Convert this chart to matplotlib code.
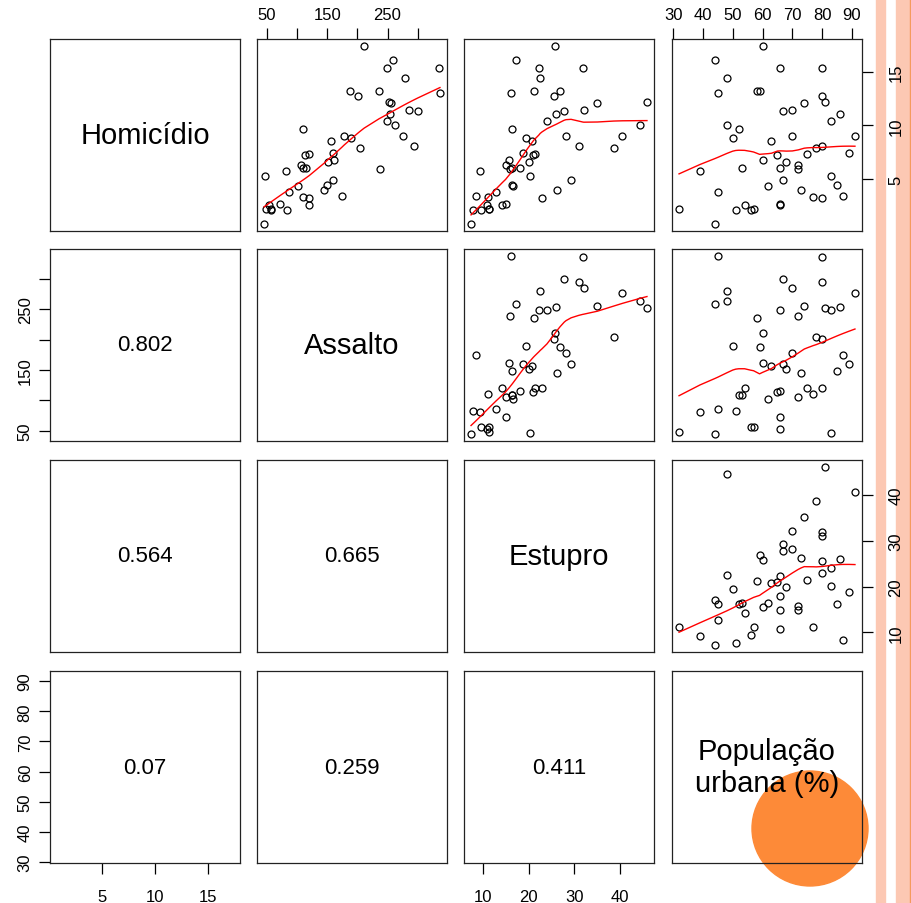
import numpy as np
import matplotlib
matplotlib.use('Agg')
import matplotlib.pyplot as plt
from matplotlib.patches import Circle, Rectangle

plt.rcParams['font.family'] = ['Liberation Sans', 'DejaVu Sans']

# dados USArrests (50 estados)
homicidio = [13.2, 10.0, 8.1, 8.8, 9.0, 7.9, 3.3, 5.9, 15.4, 17.4,
             5.3, 2.6, 10.4, 7.2, 2.2, 6.0, 9.7, 15.4, 2.1, 11.3,
             4.4, 12.1, 2.7, 16.1, 9.0, 6.0, 4.3, 12.2, 2.1, 7.4,
             11.4, 11.1, 13.0, 0.8, 7.3, 6.6, 4.9, 6.3, 3.4, 14.4,
             3.8, 13.2, 12.7, 3.2, 2.2, 8.5, 4.0, 5.7, 2.6, 6.8]
assalto = [236, 263, 294, 190, 276, 204, 110, 238, 335, 211,
           46, 120, 249, 113, 56, 115, 109, 249, 83, 300,
           149, 255, 72, 259, 178, 109, 102, 252, 57, 159,
           285, 254, 337, 45, 120, 151, 159, 106, 174, 279,
           86, 188, 201, 120, 48, 156, 145, 81, 53, 161]
pop_urbana = [58, 48, 80, 50, 91, 78, 77, 72, 80, 60,
              83, 54, 83, 65, 57, 66, 52, 66, 51, 67,
              85, 74, 66, 44, 70, 53, 62, 81, 56, 89,
              70, 86, 45, 44, 75, 68, 67, 72, 87, 48,
              45, 59, 80, 80, 32, 63, 73, 39, 66, 60]
estupro = [21.2, 44.5, 31.0, 19.5, 40.6, 38.7, 11.1, 15.8, 31.9, 25.8,
           20.2, 14.2, 24.0, 21.0, 11.3, 18.0, 16.3, 22.2, 7.8, 27.8,
           16.3, 35.1, 14.9, 17.1, 28.2, 16.4, 16.5, 46.0, 9.5, 18.8,
           32.1, 26.1, 16.1, 7.3, 21.4, 20.0, 29.3, 14.9, 8.3, 22.5,
           12.8, 26.9, 25.5, 22.9, 11.2, 20.7, 26.2, 9.3, 10.8, 15.6]

nomes = ['Homicídio', 'Assalto', 'Estupro', 'População\nurbana (%)']
dados = [homicidio, assalto, estupro, pop_urbana]
marcas = [[5, 10, 15],
          [50, 100, 150, 200, 250, 300],
          [10, 20, 30, 40],
          [30, 40, 50, 60, 70, 80, 90]]
rotulos = [['5', '10', '15'],
           ['50', '', '150', '', '250', ''],
           ['10', '20', '30', '40'],
           ['30', '40', '50', '60', '70', '80', '90']]


# lowess igual ao do R (f=2/3, iter=3)
def lowess(x, y, f=2/3, iters=3):
    x = np.asarray(x, float)
    y = np.asarray(y, float)
    ordem = np.argsort(x, kind='stable')
    x = x[ordem]
    y = y[ordem]
    n = len(x)
    ns = max(min(int(f * n + 1e-7), n), 2)
    faixa = x[-1] - x[0]
    rw = np.ones(n)
    ys = np.zeros(n)
    for it in range(iters + 1):
        for i in range(n):
            d = np.abs(x - x[i])
            h = np.sort(d)[ns - 1]
            w = np.where(d <= 0.999 * h,
                         np.where(d <= 0.001 * h, 1.0, (1 - (d / h) ** 3) ** 3), 0.0) * rw
            if w.sum() <= 0:
                ys[i] = y[i]
                continue
            w = w / w.sum()
            if h > 0:
                a = np.sum(w * x)
                b = x[i] - a
                c = np.sum(w * (x - a) ** 2)
                if np.sqrt(c) > 0.001 * faixa:
                    b = b / c
                    w = w * (b * (x - a) + 1)
            ys[i] = np.sum(w * y)
        if it == iters:
            break
        res = y - ys
        cmad = 6 * np.median(np.abs(res))
        if cmad < 1e-7 * np.mean(np.abs(y)):
            break
        r = np.abs(res)
        rw = np.where(r <= 0.001 * cmad, 1.0,
                      np.where(r > 0.999 * cmad, 0.0, (1 - (r / cmad) ** 2) ** 2))
    return x, ys


def limites(v):
    v = np.asarray(v, float)
    ext = 0.04 * (v.max() - v.min())
    return v.min() - ext, v.max() + ext


W, H = 912, 904
fig = plt.figure(figsize=(9.12, 9.04), dpi=100)
fig.patch.set_facecolor('white')

# faixas rosadas e circulo laranja (atras dos paineis)
fig.patches.append(Rectangle((876 / W, 0), 9 / W, 1, transform=fig.transFigure,
                             color='#fcc8b3', zorder=-2))
fig.patches.append(Rectangle((896 / W, 0), 16 / W, 1, transform=fig.transFigure,
                             color='#fcc8b3', zorder=-2))
fig.patches.append(Rectangle((910.5 / W, 0), 1.5 / W, 1, transform=fig.transFigure,
                             color='#f59a5e', zorder=-2))
fig.patches.append(Circle((810 / W, 1 - 829.5 / H), 58 / W, transform=fig.transFigure,
                          color='#fd8a38', zorder=-1))

esq = [50, 257, 464, 672]
topo = [40, 250, 461, 672]
larg, alt = 190, 192
n = len(dados)

for i in range(n):
    for j in range(n):
        ax = fig.add_axes([esq[j] / W, 1 - (topo[i] + alt) / H, larg / W, alt / H])
        ax.set_facecolor('none')
        ax.set_xlim(limites(dados[j]))
        ax.set_ylim(limites(dados[i]))
        for s in ax.spines.values():
            s.set_linewidth(0.9)
            s.set_color('#222222')
        ax.set_xticks([])
        ax.set_yticks([])

        if i < j:
            # dispersao + lowess
            ax.plot(dados[j], dados[i], 'o', mfc='none', mec='black', ms=5, mew=0.9)
            lx, ly = lowess(dados[j], dados[i])
            ax.plot(lx, ly, color='red', lw=1)
        elif i > j:
            r = np.corrcoef(dados[i], dados[j])[0, 1]
            ax.text(0.5, 0.5, str(round(r, 3)), transform=ax.transAxes,
                    ha='center', va='center', fontsize=16)
        else:
            ax.text(0.5, 0.5, nomes[i], transform=ax.transAxes,
                    ha='center', va='center', fontsize=21, linespacing=1.2)

        # eixos alternados como no pairs() do R
        if i == 0 and j % 2 == 1:
            ax.set_xticks(marcas[j])
            ax.set_xticklabels(rotulos[j])
            ax.tick_params(axis='x', top=True, labeltop=True, bottom=False, labelbottom=False,
                           length=8, width=0.9, pad=4.5, labelsize=12)
        if i == n - 1 and j % 2 == 0:
            ax.set_xticks(marcas[j])
            ax.set_xticklabels(rotulos[j])
            ax.tick_params(axis='x', length=8, width=0.9, pad=11, labelsize=12)
        if j == 0 and i % 2 == 1:
            ax.set_yticks(marcas[i])
            ax.set_yticklabels(rotulos[i], rotation=90, va='center')
            ax.tick_params(axis='y', length=8, width=0.9, pad=4.5, labelsize=12)
        if j == n - 1 and i % 2 == 0:
            ax.set_yticks(marcas[i])
            ax.set_yticklabels(rotulos[i], rotation=90, va='center')
            ax.tick_params(axis='y', right=True, labelright=True, left=False, labelleft=False,
                           length=8, width=0.9, pad=11, labelsize=12)

fig.savefig('out.png', dpi=100)
